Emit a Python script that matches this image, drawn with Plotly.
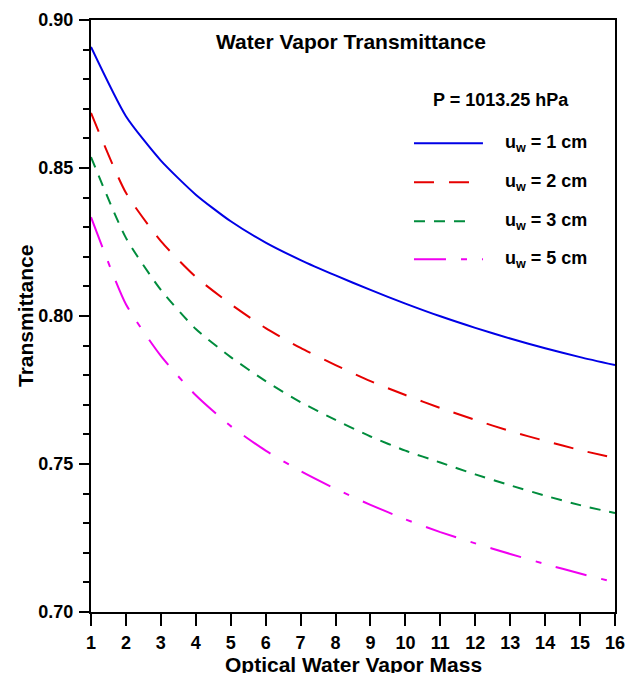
import plotly.graph_objects as go

air_mass = list(range(1, 17))
t_1cm = [0.8909, 0.8675, 0.8525, 0.8410, 0.8320, 0.8248, 0.8189, 0.8137, 0.8088, 0.8042,
         0.7999, 0.7960, 0.7924, 0.7891, 0.7861, 0.7834]
t_2cm = [0.8686, 0.8416, 0.8253, 0.8132, 0.8040, 0.7959, 0.7892, 0.7834, 0.7780, 0.7733,
         0.7689, 0.7649, 0.7611, 0.7578, 0.7547, 0.7520]
t_3cm = [0.8537, 0.8264, 0.8088, 0.7956, 0.7861, 0.7780, 0.7709, 0.7649, 0.7593, 0.7545,
         0.7505, 0.7465, 0.7428, 0.7393, 0.7361, 0.7334]
t_5cm = [0.8334, 0.8040, 0.7865, 0.7732, 0.7628, 0.7545, 0.7476, 0.7416, 0.7362, 0.7313,
         0.7270, 0.7232, 0.7196, 0.7162, 0.7130, 0.7100]
labels = ["u<sub>w</sub> = 1 cm", "u<sub>w</sub> = 2 cm", "u<sub>w</sub> = 3 cm", "u<sub>w</sub> = 5 cm"]
y_ticks = [0.70, 0.75, 0.80, 0.85, 0.90]

FONT = "Liberation Sans, Arial, sans-serif"
colors = ["#0000E6", "#E60000", "#008C3C", "#F000F0"]
dashes = ["solid", "20px,15px", "11px,9px", "32px,15px,6px,15px"]
series = [t_1cm, t_2cm, t_3cm, t_5cm]

fig = go.Figure()
for ys, c, d, lab in zip(series, colors, dashes, labels):
    fig.add_trace(go.Scatter(x=air_mass, y=ys, mode="lines", name=lab,
                             line=dict(color=c, width=2, dash=d, shape="spline", smoothing=0.6),
                             showlegend=False))

# manual legend (paper coordinates)
leg_y = [0.792, 0.726, 0.660, 0.596]
leg_x1 = [0.748, 0.7233, 0.7233, 0.748]
for c, d, lab, yy, x1 in zip(colors, dashes, labels, leg_y, leg_x1):
    fig.add_shape(type="line", xref="paper", yref="paper", x0=0.6164, x1=x1, y0=yy, y1=yy,
                  line=dict(color=c, width=2, dash=d))
    fig.add_annotation(xref="paper", yref="paper", x=0.786, y=yy, xanchor="left", yanchor="middle",
                       text=lab, showarrow=False, font=dict(family=FONT, size=18, color="black", weight="bold"))

fig.add_annotation(xref="paper", yref="paper", x=0.496, y=0.963, text="Water Vapor Transmittance",
                   showarrow=False, xanchor="center", yanchor="middle",
                   font=dict(family=FONT, size=21, color="black", weight="bold"))
fig.add_annotation(xref="paper", yref="paper", x=0.783, y=0.865, text="P = 1013.25 hPa",
                   showarrow=False, xanchor="center", yanchor="middle",
                   font=dict(family=FONT, size=18, color="black", weight="bold"))
# axis titles
fig.add_annotation(xref="paper", yref="paper", x=0.5, y=0, yshift=-52, text="Optical Water Vapor Mass",
                   showarrow=False, xanchor="center", yanchor="middle",
                   font=dict(family=FONT, size=21, color="black", weight="bold"))
fig.add_annotation(xref="paper", yref="paper", x=0, y=0.5, xshift=-66, text="Transmittance",
                   textangle=-90, showarrow=False, xanchor="center", yanchor="middle",
                   font=dict(family=FONT, size=21, color="black", weight="bold"))

fig.update_layout(
    width=625, height=673,
    margin=dict(l=91, r=10, t=20, b=61),
    paper_bgcolor="white", plot_bgcolor="white",
    font=dict(family=FONT, color="black"),
)
fig.update_xaxes(range=[1, 16], tickmode="array", tickvals=air_mass, ticktext=[str(v) for v in air_mass],
                 automargin=False, ticklabeloverflow="allow",
                 showgrid=False, zeroline=False,
                 showline=True, linecolor="black", linewidth=2, mirror=True,
                 ticks="outside", ticklen=12, tickwidth=2, tickcolor="black",
                 tickfont=dict(family=FONT, size=18, weight="bold"), ticklabelstandoff=1)
fig.update_yaxes(range=[0.70, 0.90], tickmode="array", tickvals=y_ticks,
                 ticktext=[f"{v:.2f}" for v in y_ticks],
                 automargin=False,
                 showgrid=False, zeroline=False,
                 showline=True, linecolor="black", linewidth=2, mirror=True,
                 ticks="outside", ticklen=10, tickwidth=2, tickcolor="black",
                 minor=dict(dtick=0.01, tick0=0.70, ticks="outside", ticklen=6, tickwidth=2, tickcolor="black"),
                 tickfont=dict(family=FONT, size=18, weight="bold"), ticklabelstandoff=2)

fig.write_html("out.html", config={"displayModeBar": False},
               post_script="document.body.style.margin='0px';")
